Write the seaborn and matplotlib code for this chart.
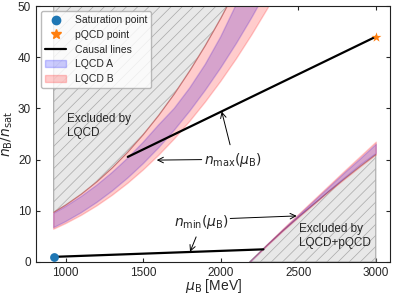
import numpy as np
import pandas as pd
import seaborn as sns
import matplotlib.pyplot as plt
from matplotlib.patches import Patch
from matplotlib.lines import Line2D

# LQCD bands (upper-left), mu_B in MeV, n_B/n_sat
lqcd_mu = [922, 1000, 1100, 1200, 1300, 1400, 1500, 1600, 1700, 1800,
           1900, 2000, 2100, 2200, 2300, 2400]
a_low = [6.70, 7.88, 9.62, 11.61, 13.86, 16.39, 19.20, 22.31, 25.72, 29.45,
         33.51, 37.90, 42.63, 47.71, 53.14, 58.95]
a_high = [9.50, 10.85, 12.8, 15.0, 17.5, 20.3, 23.4, 26.8, 30.0, 34.0,
          38.6, 44.0, 50.3, 57.0, 64.0, 71.0]
b_low = [6.40, 7.50, 9.10, 10.94, 13.02, 15.36, 17.97, 20.84, 24.00, 27.45,
         31.21, 35.27, 39.64, 44.34, 49.37, 54.74]
b_high = [9.70, 11.14, 13.25, 15.66, 18.40, 21.47, 24.89, 28.66, 32.81, 37.35,
          42.27, 47.60, 53.35, 59.52, 66.1, 73.2]

# LQCD+pQCD bands (lower-right)
pq_mu = [2185, 2300, 2400, 2500, 2600, 2700, 2800, 2900, 3000]
pa_low = [0, 3.4, 6.2, 8.9, 11.5, 14.1, 16.6, 19.1, 21.3]
pa_high = [0, 3.5, 6.4, 9.2, 12.0, 14.8, 17.6, 20.3, 23.1]
pb_low = [0, 3.3, 6.1, 8.75, 11.3, 13.85, 16.3, 18.7, 21.0]
pb_high = [0, 3.55, 6.5, 9.35, 12.2, 15.05, 17.9, 20.7, 23.5]

# points and causal lines
sat_mu, sat_n = [922], [1.0]
pqcd_mu, pqcd_n = [3000], [44.0]
nmax_mu, nmax_n = [1400, 3000], [20.53, 44.0]
nmin_mu, nmin_n = [922, 2275], [1.0, 2.47]

sns.set_style('ticks')
plt.rcParams['font.family'] = ['Liberation Sans', 'DejaVu Sans']
plt.rcParams['mathtext.fontset'] = 'dejavusans'
plt.rcParams['hatch.linewidth'] = 0.5

fig = plt.figure(figsize=(3.94, 2.96), dpi=100)
ax = fig.add_axes([0.0914, 0.1149, 0.8997, 0.8648])

hatch_kw = dict(facecolor='#e8e8e8', edgecolor='#a8a8a8', hatch='///',
                linewidth=0.8, zorder=1)
b_high_arr = np.array(b_high)
ax.fill_between(lqcd_mu, b_high, 50, where=b_high_arr < 60, **hatch_kw)
ax.fill_between(pq_mu, 0, pb_low, **hatch_kw)

ax.fill_between(lqcd_mu, a_low, a_high, color='blue', alpha=0.2, zorder=2)
ax.fill_between(lqcd_mu, b_low, b_high, color='red', alpha=0.2, zorder=2)
ax.fill_between(pq_mu, pa_low, pa_high, color='blue', alpha=0.2, zorder=2)
ax.fill_between(pq_mu, pb_low, pb_high, color='red', alpha=0.2, zorder=2)

lines = pd.DataFrame({'mu': nmax_mu + nmin_mu, 'n': nmax_n + nmin_n,
                      'which': ['max', 'max', 'min', 'min']})
sns.lineplot(data=lines, x='mu', y='n', units='which', estimator=None,
             color='k', lw=1.6, ax=ax, zorder=3)
sns.scatterplot(x=sat_mu, y=sat_n, color='C0', s=40, marker='o',
                linewidth=0, ax=ax, zorder=4, clip_on=False)
sns.scatterplot(x=pqcd_mu, y=pqcd_n, color='C1', s=55, marker='*',
                linewidth=0, ax=ax, zorder=4, clip_on=False)

arrow = dict(arrowstyle='->', color='k', lw=0.7, shrinkA=0, shrinkB=0)
ax.text(2080, 20, r'$n_{\rm max}(\mu_{\rm B})$', fontsize=10,
        ha='center', va='center')
ax.annotate('', xy=(2006, 29.4), xytext=(2060, 22.9), arrowprops=arrow)
ax.annotate('', xy=(1587, 19.9), xytext=(1877, 20.0), arrowprops=arrow)
ax.text(1874, 7.9, r'$n_{\rm min}(\mu_{\rm B})$', fontsize=10,
        ha='center', va='center')
ax.annotate('', xy=(1802, 2.0), xytext=(1841, 4.9), arrowprops=arrow)
ax.annotate('', xy=(2490, 9.0), xytext=(2061, 8.5), arrowprops=arrow)

ax.text(1005, 26.5, 'Excluded by\nLQCD', fontsize=8.5, ha='left', va='center')
ax.text(2505, 5.1, 'Excluded by\nLQCD+pQCD', fontsize=8.5, ha='left',
        va='center')

ax.set_xlim(808, 3095)
ax.set_ylim(0, 50)
ax.set_xticks([1000, 1500, 2000, 2500, 3000])
ax.set_yticks([0, 10, 20, 30, 40, 50])
ax.tick_params(direction='in', top=True, right=True, labelsize=8.5,
               length=3, width=0.8)
for sp in ax.spines.values():
    sp.set_linewidth(0.8)
    sp.set_color('#222222')
ax.set_xlabel(r'$\mu_{\rm B}$ [MeV]', fontsize=10, labelpad=-1)
ax.set_ylabel(r'$n_{\rm B}/n_{\rm sat}$', fontsize=10, labelpad=2)

handles = [
    Line2D([], [], marker='o', ls='none', color='C0', markersize=6),
    Line2D([], [], marker='*', ls='none', color='C1', markersize=7.5),
    Line2D([], [], color='k', lw=1.6),
    Patch(facecolor='blue', edgecolor='blue', alpha=0.2),
    Patch(facecolor='red', edgecolor='red', alpha=0.2),
]
labels = ['Saturation point', 'pQCD point', 'Causal lines', 'LQCD A', 'LQCD B']
leg = ax.legend(handles, labels, loc='upper left', fontsize=7.5,
                labelspacing=0.45, frameon=True)
leg.get_frame().set_edgecolor('#aaaaaa')
leg.set_zorder(5)

fig.savefig('out.png', dpi=100)
